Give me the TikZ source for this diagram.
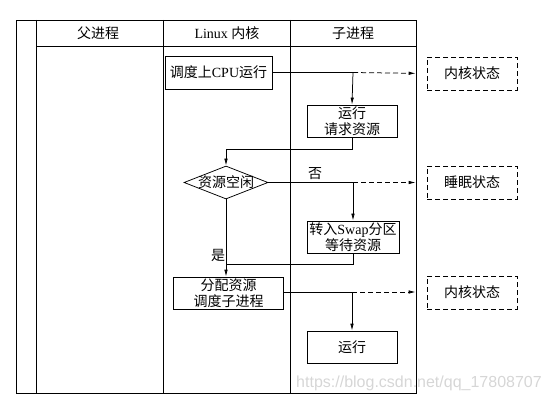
\documentclass[tikz,border=0pt]{standalone}
\usepackage{fontspec}
\setmainfont{Liberation Serif}
\newfontfamily\cjk{Noto Sans CJK SC}
\usetikzlibrary{shapes.geometric,arrows.meta}
\begin{document}
\begin{tikzpicture}[x=1pt,y=-1pt,line width=0.75pt,
  font=\fontsize{14}{16}\selectfont,
  box/.style={draw,minimum width=90pt,minimum height=32pt,inner sep=1pt,align=center},
  statebox/.style={draw,dashed,dash pattern=on 5pt off 3pt,minimum width=90pt,minimum height=33pt,inner sep=1pt},
  arr/.style={-{Latex[length=7pt,width=3.5pt]}},
  darr/.style={dashed,dash pattern=on 5pt off 3pt,-{Latex[length=7pt,width=3.5pt]},shorten >=11pt},
  hdr/.style={inner sep=0pt}]
\useasboundingbox (0,0) rectangle (551,403);
% frame
\draw (16,20) rectangle (416,393);
\draw (36,20) -- (36,393);
\draw (163,20) -- (163,393);
\draw (290,20) -- (290,393);
\draw (36,46) -- (416,46);
\node[hdr] (h1) at (98,33) {\cjk 父进程};
\node[hdr] (h2) at (227,33) {Linux {\cjk 内核}};
\node[hdr] (h3) at (353,33) {\cjk 子进程};
% nodes
\node[box,minimum width=107pt,minimum height=33pt] (b1) at (218.5,72.5) {{\cjk 调度上}CPU{\cjk 运行}};
\node[box] (b2) at (352,121) {\cjk 运行\\\cjk 请求资源};
\node[draw,diamond,minimum width=84pt,minimum height=33pt,aspect=2.5,inner sep=0pt,
  label={[inner sep=0pt]center:{\cjk 资源空闲}}] (d) at (226,182.5) {};
\node[box,minimum width=92pt] (b3) at (353,237) {{\cjk 转入}Swap{\cjk 分区}\\\cjk 等待资源};
\node[box,minimum width=110pt] (b4) at (228.5,293) {\cjk 分配资源\\\cjk 调度子进程};
\node[box] (b5) at (352,347) {\cjk 运行};
\node[statebox] (s1) at (472,73.5) {\cjk 内核状态};
\node[statebox] (s2) at (472,182.5) {\cjk 睡眠状态};
\node[statebox] (s3) at (472,292.5) {\cjk 内核状态};
% junctions
\coordinate (j1) at (353,72.5);
\coordinate (j2) at (353,182.5);
\coordinate (j3) at (352,292);
\coordinate (m1) at (226,149);
\coordinate (m2) at (226,264);
% connectors
\draw (b1.east) -- (j1);
\draw[darr] (j1) -- (s1.west);
\draw[arr] (j1) -- (b2.north);
\draw[arr] (b2.south) |- (m1) -- (d.north);
\draw (d.east) -- (j2);
\draw[darr] (j2) -- (s2.west);
\draw[arr] (j2) -- (b3.north);
\draw[arr] (d.south) -- (d.south |- b4.north);
\draw (b3.south) |- (m2);
\draw (b4.east |- j3) -- (j3);
\draw[darr] (j3) -- (s3.west |- j3);
\draw[arr] (j3) -- (b5.north);
% labels
\node[inner sep=0pt] (no) at (315,174) {\cjk 否};
\node[inner sep=0pt] (yes) at (218,255) {\cjk 是};
% watermark
\node[inner sep=0pt,text=black!16,font=\fontspec{Liberation Sans}\fontsize{16}{16}\selectfont] (wm) at (419,383) {https://blog.csdn.net/qq\_17808707};
\end{tikzpicture}
\end{document}
